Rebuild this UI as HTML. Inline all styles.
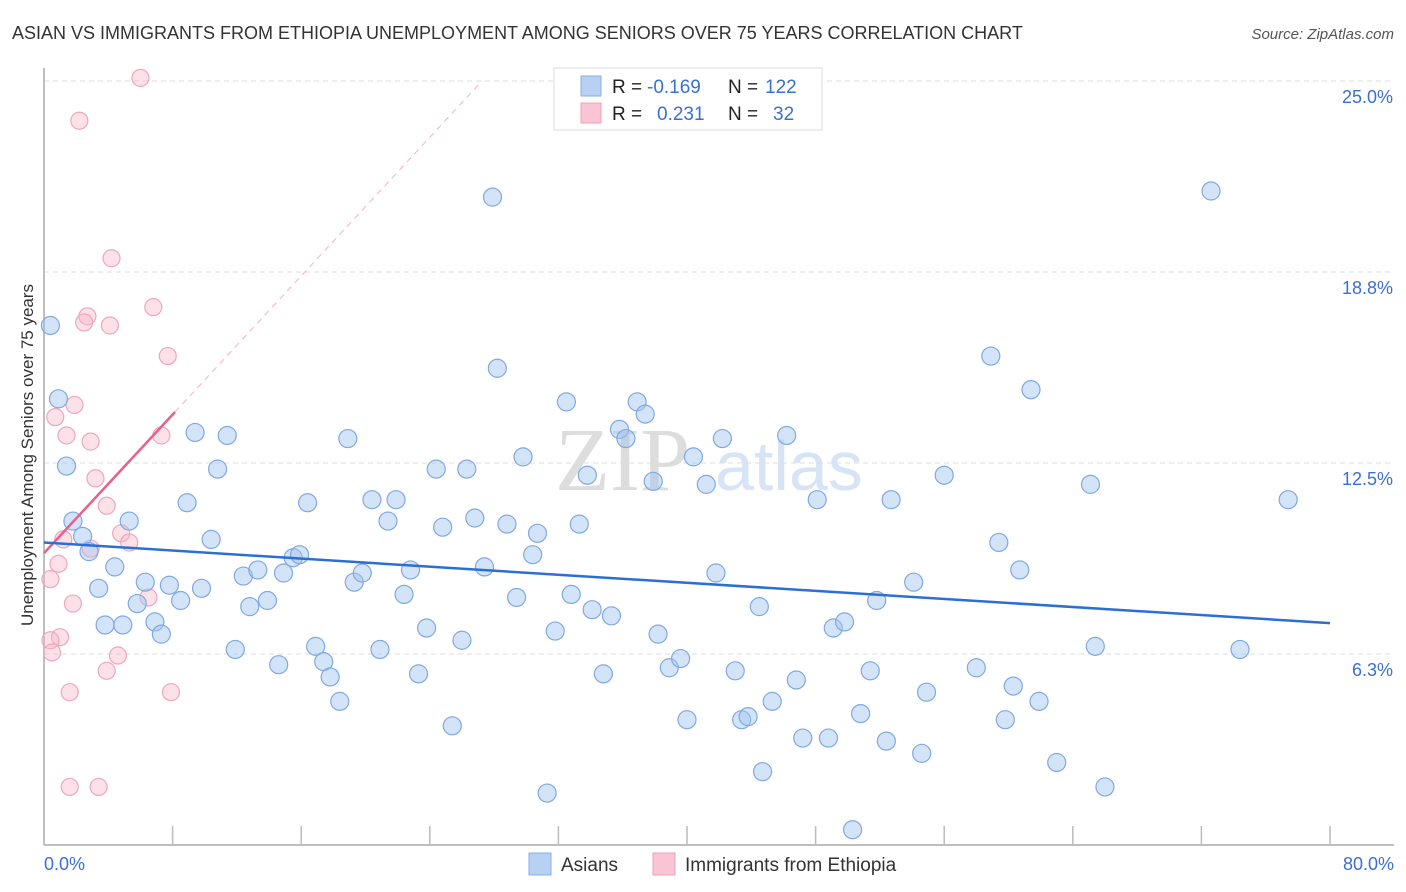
<!DOCTYPE html>
<html><head><meta charset="utf-8"><style>
body{margin:0;background:#fff;font-family:"Liberation Sans",sans-serif}
svg{display:block}
</style></head><body>
<svg id="chart" width="1406" height="892" viewBox="0 0 1406 892" xmlns="http://www.w3.org/2000/svg">
<text x="12" y="39" font-size="18" fill="#333">ASIAN VS IMMIGRANTS FROM ETHIOPIA UNEMPLOYMENT AMONG SENIORS OVER 75 YEARS CORRELATION CHART</text>
<text x="1394" y="39" font-size="15" fill="#555" text-anchor="end" font-style="italic">Source: ZipAtlas.com</text>
<g><text x="555" y="490" font-size="90" fill="#ddd" font-family="Liberation Serif,serif">ZIP</text><text x="715" y="490" font-size="70" fill="#d6e4f5">atlas</text></g>
<g id="grid"></g><g id="axes"></g><g id="marks"></g>
<text transform="translate(33,455) rotate(-90)" font-size="17" fill="#333" text-anchor="middle">Unemployment Among Seniors over 75 years</text>
<g>
<rect x="554" y="68" width="268" height="62" fill="#fff" stroke="#ddd"/>
<rect x="581" y="76" width="20" height="20" fill="#b7d0f4" stroke="#88aee6"/>
<text x="612" y="93" font-size="19" fill="#222">R = </text><text x="647" y="93" font-size="19" fill="#3a70d0">-0.169</text>
<text x="728" y="93" font-size="19" fill="#222">N = </text><text x="765" y="93" font-size="19" fill="#3a70d0">122</text>
<rect x="581" y="103" width="20" height="20" fill="#f9c5d4" stroke="#eea0b8"/>
<text x="612" y="120" font-size="19" fill="#222">R = </text><text x="657" y="120" font-size="19" fill="#3a70d0">0.231</text>
<text x="728" y="120" font-size="19" fill="#222">N = </text><text x="773" y="120" font-size="19" fill="#3a70d0">32</text>
</g>
<g>
<rect x="529" y="853" width="22" height="22" fill="#b7d0f4" stroke="#88aee6"/>
<text x="561" y="871" font-size="19" fill="#333">Asians</text>
<rect x="653" y="853" width="22" height="22" fill="#f9c5d4" stroke="#eea0b8"/>
<text x="685" y="871" font-size="19" fill="#333">Immigrants from Ethiopia</text>
</g>
</svg>
<script>
const yTicks=[6.25,12.5,18.75,25];
const yTickLabels=["6.3%","12.5%","18.8%","25.0%"];
const xTickLabels=["0.0%","80.0%"];
const asiansX=[0.4,0.9,1.4,1.8,2.4,2.8,3.4,3.8,4.4,4.9,5.3,5.8,6.3,6.9,7.3,7.8,8.5,8.9,9.4,9.8,10.4,10.8,11.4,11.9,12.4,12.8,13.3,13.9,14.6,14.9,15.5,15.9,16.4,16.9,17.4,17.8,18.4,18.9,19.3,19.8,20.4,20.9,21.4,21.9,22.4,22.8,23.3,23.8,24.4,24.8,25.4,26.0,26.3,26.8,27.4,27.9,28.2,28.8,29.4,29.8,30.4,30.7,31.3,31.8,32.5,32.8,33.3,33.8,34.1,34.8,35.3,35.8,36.2,36.9,37.4,37.9,38.2,38.9,39.6,40.0,40.4,41.2,41.8,42.2,43.0,43.4,43.8,44.5,44.7,45.3,46.2,46.8,47.2,48.1,48.8,49.1,49.8,50.3,50.8,51.4,51.8,52.4,52.7,54.1,54.6,54.9,56.0,58.0,58.9,59.4,59.8,60.3,60.7,61.4,61.9,63.0,65.1,65.4,66.0,72.6,74.4,77.4];
const asiansY=[17.0,14.6,12.4,10.6,10.1,9.6,8.4,7.2,9.1,7.2,10.6,7.9,8.6,7.3,6.9,8.5,8.0,11.2,13.5,8.4,10.0,12.3,13.4,6.4,8.8,7.8,9.0,8.0,5.9,8.9,9.4,9.5,11.2,6.5,6.0,5.5,4.7,13.3,8.6,8.9,11.3,6.4,10.6,11.3,8.2,9.0,5.6,7.1,12.3,10.4,3.9,6.7,12.3,10.7,9.1,21.2,15.6,10.5,8.1,12.7,9.5,10.2,1.7,7.0,14.5,8.2,10.5,12.1,7.7,5.6,7.5,13.6,13.3,14.5,14.1,11.9,6.9,5.8,6.1,4.1,12.7,11.8,8.9,13.3,5.7,4.1,4.2,7.8,2.4,4.7,13.4,5.4,3.5,11.3,3.5,7.1,7.3,0.5,4.3,5.7,8.0,3.4,11.3,8.6,3.0,5.0,12.1,5.8,16.0,9.9,4.1,5.2,9.0,14.9,4.7,2.7,11.8,6.5,1.9,21.4,6.4,11.3];
const ethX=[6.0,2.2,4.2,2.7,2.5,4.1,6.8,7.7,1.9,0.7,1.4,2.9,7.3,3.2,3.9,4.8,5.3,1.2,2.9,0.9,0.4,6.5,1.8,1.0,0.4,0.5,4.6,3.9,7.9,1.6,1.6,3.4];
const ethY=[25.1,23.7,19.2,17.3,17.1,17.0,17.6,16.0,14.4,14.0,13.4,13.2,13.4,12.0,11.1,10.2,9.9,10.0,9.7,9.2,8.7,8.1,7.9,6.8,6.7,6.3,6.2,5.7,5.0,5.0,1.9,1.9];
const asiansTrend=[[0,9.9],[80,7.26]];
const ethTrend=[[0,9.55],[8.15,14.17]];
const ethTrendExt=[[8.15,14.17],[27.25,25]];
const NS="http://www.w3.org/2000/svg";
const X0=44,X1=1330,Y0=845,Y25=81;
function sx(v){return X0+(v/80)*(X1-X0);}
function sy(v){return Y0-(v/25)*(Y0-Y25);}
function mk(tag,attrs,parent){const e=document.createElementNS(NS,tag);for(const k in attrs)e.setAttribute(k,attrs[k]);document.getElementById(parent).appendChild(e);return e;}
yTicks.forEach((t,i)=>{
 const g=mk('line',{x1:X0,x2:1394,y1:sy(t),y2:sy(t),stroke:'#ddd','stroke-dasharray':'5,4'},'grid');
 
 
 const l=mk('text',{x:1393,y:sy(t)+22,'font-size':18,fill:'#3a70d0','text-anchor':'end'},'axes');
 l.textContent=yTickLabels[i];
 
 
});
const ax=mk('line',{x1:X0,x2:1394,y1:Y0,y2:Y0,stroke:'#aaa','stroke-width':1.5},'axes');


const ay=mk('line',{x1:X0,x2:X0,y1:68,y2:Y0,stroke:'#aaa','stroke-width':1.5},'axes');


for(let i=1;i<=10;i++){
 const t=mk('line',{x1:sx(i*8),x2:sx(i*8),y1:826,y2:Y0,stroke:'#bbb','stroke-width':1.5},'axes');
 
 
}
[[0,'start',44],[80,'end',1394]].forEach((d,i)=>{
 const l=mk('text',{x:d[2],y:870,'font-size':18,fill:'#3a70d0','text-anchor':d[1]},'axes');
 l.textContent=xTickLabels[i];
 
 
});
ethX.forEach((v,i)=>{
 const c=mk('circle',{cx:sx(v),cy:sy(ethY[i]),r:8.5,fill:'rgba(248,180,200,0.4)',stroke:'#f0a6bd','stroke-width':1.2},'marks');
 
 
});
asiansX.forEach((v,i)=>{
 const c=mk('circle',{cx:sx(v),cy:sy(asiansY[i]),r:9,fill:'rgba(160,196,240,0.45)',stroke:'#7ea9e2','stroke-width':1.2},'marks');
 
 
});
const te=mk('line',{x1:sx(ethTrendExt[0][0]),y1:sy(ethTrendExt[0][1]),x2:sx(ethTrendExt[1][0]),y2:sy(ethTrendExt[1][1]),stroke:'#f0b0c4','stroke-dasharray':'6,5','stroke-width':1},'marks');


const tp=mk('line',{x1:sx(ethTrend[0][0]),y1:sy(ethTrend[0][1]),x2:sx(ethTrend[1][0]),y2:sy(ethTrend[1][1]),stroke:'#e8608a','stroke-width':2.5},'marks');


const tb=mk('line',{x1:sx(asiansTrend[0][0]),y1:sy(asiansTrend[0][1]),x2:sx(asiansTrend[1][0]),y2:sy(asiansTrend[1][1]),stroke:'#2a6fd6','stroke-width':2.5},'marks');


</script>
</body></html>
